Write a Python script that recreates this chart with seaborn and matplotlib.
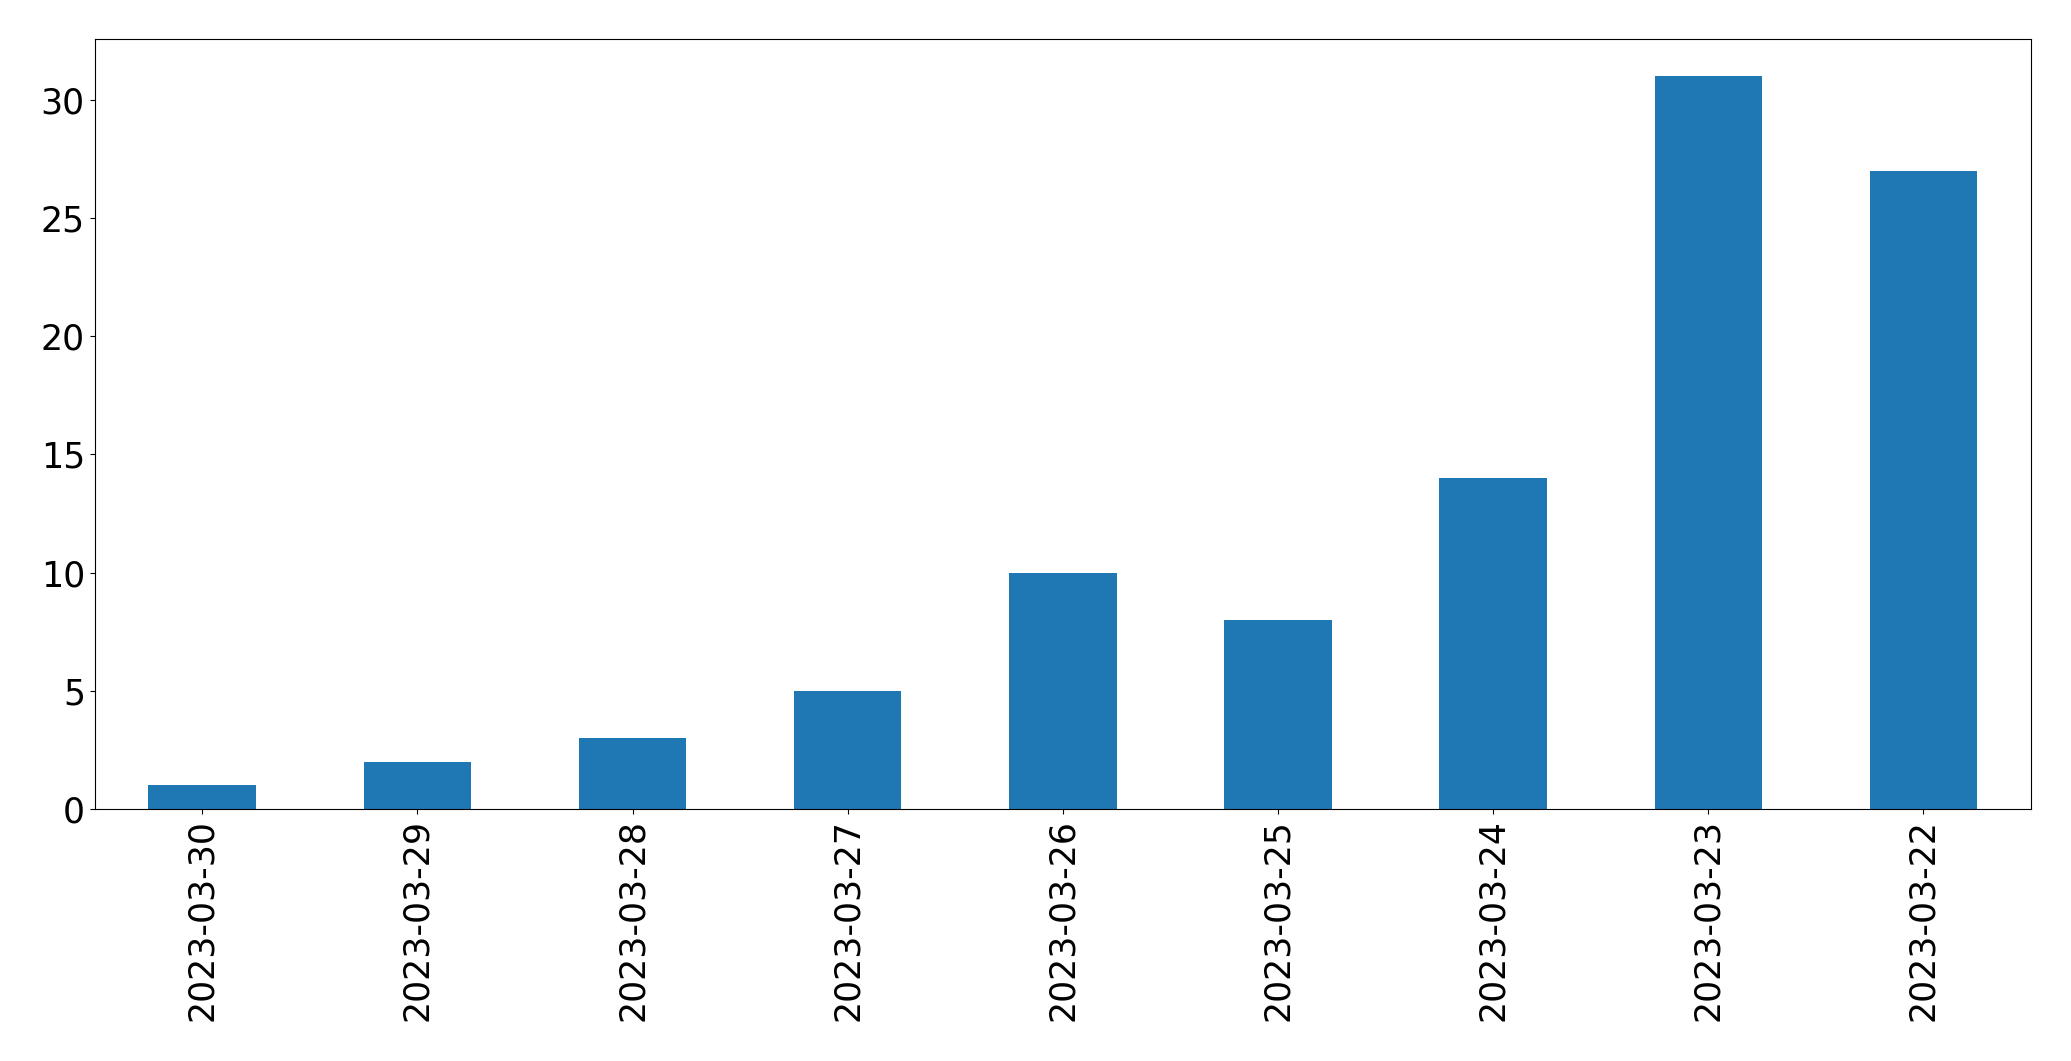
import matplotlib
matplotlib.use("Agg")
import matplotlib.pyplot as plt
import seaborn as sns

dates = ["2023-03-30", "2023-03-29", "2023-03-28", "2023-03-27", "2023-03-26",
         "2023-03-25", "2023-03-24", "2023-03-23", "2023-03-22"]
counts = [1, 2, 3, 5, 10, 8, 14, 31, 27]

fig, ax = plt.subplots(figsize=(20.71, 10.61), dpi=100)
fig.subplots_adjust(left=0.0457, right=0.9807, top=0.963, bottom=0.2375)
sns.barplot(x=dates, y=counts, color="#1f77b4", saturation=1, width=0.5, ax=ax)
ax.set_xlim(-0.5, len(dates) - 0.5)
ax.set_ylim(0, max(counts) * 1.05)
ax.tick_params(axis="both", labelsize=25)
ax.tick_params(axis="x", labelrotation=90)
fig.savefig("out.png", dpi=100)
